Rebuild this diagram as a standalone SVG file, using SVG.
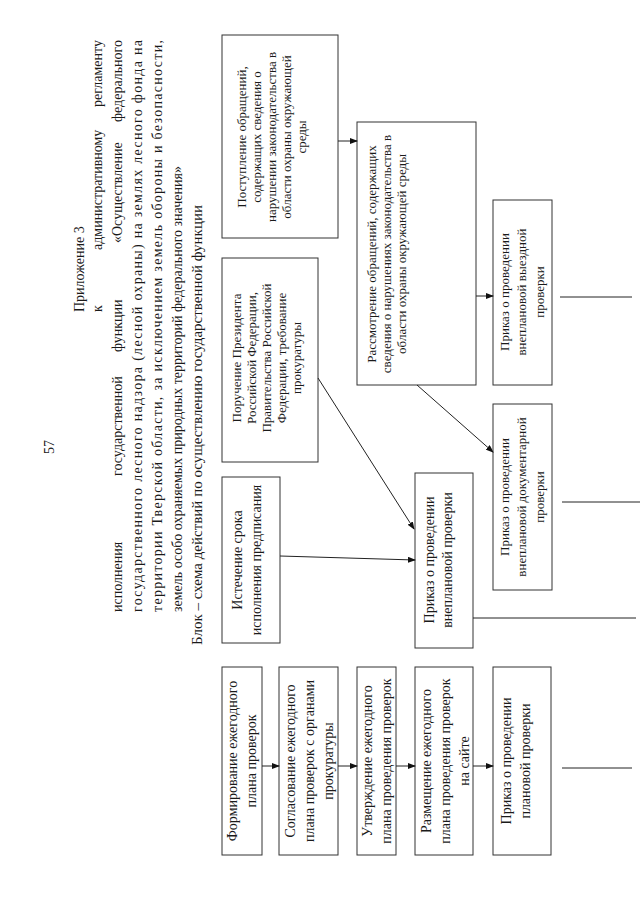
<svg xmlns="http://www.w3.org/2000/svg" width="640" height="905" viewBox="0 0 640 905">
<defs>
<style>
.t{font-family:"Liberation Serif","Times New Roman",serif;fill:#1a1a1a}
.h{font-size:14px}
.ti{font-size:15px}
.b{font-size:14px}
.s{font-size:13px}
.box{fill:#fff;stroke:#333;stroke-width:1}
.ln{stroke:#222;stroke-width:1;fill:none}
</style>
<marker id="ah" markerWidth="8" markerHeight="6" refX="7" refY="3" orient="auto" markerUnits="userSpaceOnUse">
<path d="M0,0 L8,3 L0,6 Z" fill="#111"/>
</marker>
</defs>
<rect width="640" height="905" fill="#fff"/>

<g id="header" class="t h">
<text transform="translate(54,447) rotate(-90)" text-anchor="middle">57</text>
<text transform="translate(84,312) rotate(-90)">Приложение 3</text>
<text transform="translate(102,312) rotate(-90)">к</text>
<text transform="translate(102,250) rotate(-90)">административному</text>
<text transform="translate(102,40) rotate(-90)" text-anchor="end">регламенту</text>
<text transform="translate(122,612) rotate(-90)">исполнения</text>
<text transform="translate(122,476) rotate(-90)">государственной</text>
<text transform="translate(122,352) rotate(-90)">функции</text>
<text transform="translate(122,243) rotate(-90)">«Осуществление</text>
<text transform="translate(122,40) rotate(-90)" text-anchor="end">федерального</text>
<text transform="translate(142,612) rotate(-90)" textLength="572" lengthAdjust="spacing">государственного лесного надзора (лесной охраны) на землях лесного фонда на</text>
<text transform="translate(162,612) rotate(-90)" textLength="572" lengthAdjust="spacing">территории Тверской области, за исключением земель обороны и безопасности,</text>
<text transform="translate(182,612) rotate(-90)">земель особо охраняемых природных территорий федерального значения»</text>
<text class="ti" transform="translate(202,645) rotate(-90)">Блок – схема действий по осуществлению государственной функции</text>
</g>

<g id="n1">
<rect class="box" x="222" y="667" width="40" height="188"/>
<text class="t b" text-anchor="middle" transform="translate(237,761) rotate(-90)">Формирование ежегодного</text>
<text class="t b" text-anchor="middle" transform="translate(256,761) rotate(-90)">плана проверок</text>
</g>
<g id="n2">
<rect class="box" x="279" y="667" width="59" height="188"/>
<text class="t b" text-anchor="middle" transform="translate(295,761) rotate(-90)">Согласование ежегодного</text>
<text class="t b" text-anchor="middle" transform="translate(314,761) rotate(-90)">плана проверок с органами</text>
<text class="t b" text-anchor="middle" transform="translate(333,761) rotate(-90)">прокуратуры</text>
</g>
<g id="n3">
<rect class="box" x="357" y="667" width="39" height="188"/>
<text class="t b" text-anchor="middle" transform="translate(372,761) rotate(-90)">Утверждение ежегодного</text>
<text class="t b" text-anchor="middle" transform="translate(391,761) rotate(-90)">плана проведения проверок</text>
</g>
<g id="n4">
<rect class="box" x="415" y="667" width="58" height="188"/>
<text class="t b" text-anchor="middle" transform="translate(431,761) rotate(-90)">Размещение ежегодного</text>
<text class="t b" text-anchor="middle" transform="translate(450,761) rotate(-90)">плана проведения проверок</text>
<text class="t b" text-anchor="middle" transform="translate(469,761) rotate(-90)">на сайте</text>
</g>
<g id="n5">
<rect class="box" x="493" y="667" width="58" height="188"/>
<text class="t b" text-anchor="middle" transform="translate(511,761) rotate(-90)">Приказ о проведении</text>
<text class="t b" text-anchor="middle" transform="translate(530,761) rotate(-90)">плановой проверки</text>
</g>

<g id="n6">
<rect class="box" x="222" y="477" width="58" height="166"/>
<text class="t b" text-anchor="middle" transform="translate(242,560) rotate(-90)">Истечение срока</text>
<text class="t b" text-anchor="middle" transform="translate(261,560) rotate(-90)">исполнения предписания</text>
</g>
<g id="n7">
<rect class="box" x="415" y="473" width="58" height="175"/>
<text class="t b" text-anchor="middle" transform="translate(434,560) rotate(-90)">Приказ о проведении</text>
<text class="t b" text-anchor="middle" transform="translate(452,560) rotate(-90)">внеплановой проверки</text>
</g>
<g id="n8">
<rect class="box" x="222" y="258" width="96" height="204"/>
<text class="t s" text-anchor="middle" transform="translate(241,358) rotate(-90)">Поручение Президента</text>
<text class="t s" text-anchor="middle" transform="translate(256,358) rotate(-90)">Российской Федерации,</text>
<text class="t s" text-anchor="middle" transform="translate(271,358) rotate(-90)">Правительства Российской</text>
<text class="t s" text-anchor="middle" transform="translate(286,358) rotate(-90)">Федерации, требование</text>
<text class="t s" text-anchor="middle" transform="translate(301,358) rotate(-90)">прокуратуры</text>
</g>
<g id="n9">
<rect class="box" x="222" y="35" width="116" height="203"/>
<text class="t s" text-anchor="middle" transform="translate(246,137) rotate(-90)">Поступление обращений,</text>
<text class="t s" text-anchor="middle" transform="translate(261,137) rotate(-90)">содержащих сведения о</text>
<text class="t s" text-anchor="middle" transform="translate(276,137) rotate(-90)">нарушении законодательства в</text>
<text class="t s" text-anchor="middle" transform="translate(291,137) rotate(-90)">области охраны окружающей</text>
<text class="t s" text-anchor="middle" transform="translate(306,137) rotate(-90)">среды</text>
</g>
<g id="n10">
<rect class="box" x="357" y="122" width="119" height="263"/>
<text class="t s" text-anchor="middle" transform="translate(376,254) rotate(-90)">Рассмотрение обращений, содержащих</text>
<text class="t s" text-anchor="middle" transform="translate(391,254) rotate(-90)">сведения о нарушениях законодательства в</text>
<text class="t s" text-anchor="middle" transform="translate(406,254) rotate(-90)">области охраны окружающей среды</text>
</g>
<g id="n11">
<rect class="box" x="493" y="200" width="59" height="185"/>
<text class="t s" text-anchor="middle" transform="translate(509,292) rotate(-90)">Приказ о проведении</text>
<text class="t s" text-anchor="middle" transform="translate(526,292) rotate(-90)">внеплановой выездной</text>
<text class="t s" text-anchor="middle" transform="translate(544,292) rotate(-90)">проверки</text>
</g>
<g id="n12">
<rect class="box" x="493" y="404" width="59" height="186"/>
<text class="t s" text-anchor="middle" transform="translate(509,497) rotate(-90)">Приказ о проведении</text>
<text class="t s" text-anchor="middle" transform="translate(526,497) rotate(-90)">внеплановой документарной</text>
<text class="t s" text-anchor="middle" transform="translate(544,497) rotate(-90)">проверки</text>
</g>

<g id="connectors">
<line class="ln" x1="262" y1="766" x2="279" y2="766" marker-end="url(#ah)"/>
<line class="ln" x1="338" y1="766" x2="357" y2="766" marker-end="url(#ah)"/>
<line class="ln" x1="396" y1="766" x2="415" y2="766" marker-end="url(#ah)"/>
<line class="ln" x1="473" y1="766" x2="493" y2="766" marker-end="url(#ah)"/>
<line class="ln" x1="280" y1="556" x2="415" y2="560" marker-end="url(#ah)"/>
<line class="ln" x1="318" y1="378" x2="414" y2="529" marker-end="url(#ah)"/>
<line class="ln" x1="338" y1="141" x2="357" y2="141" marker-end="url(#ah)"/>
<line class="ln" x1="476" y1="296" x2="493" y2="296" marker-end="url(#ah)"/>
<line class="ln" x1="417" y1="385" x2="493" y2="452" marker-end="url(#ah)"/>
<line class="ln" x1="560" y1="297" x2="632" y2="297"/>
<line class="ln" x1="562" y1="502" x2="640" y2="502"/>
<line class="ln" x1="473" y1="618" x2="636" y2="618"/>
<line class="ln" x1="562" y1="768" x2="632" y2="768"/>
</g>
</svg>
